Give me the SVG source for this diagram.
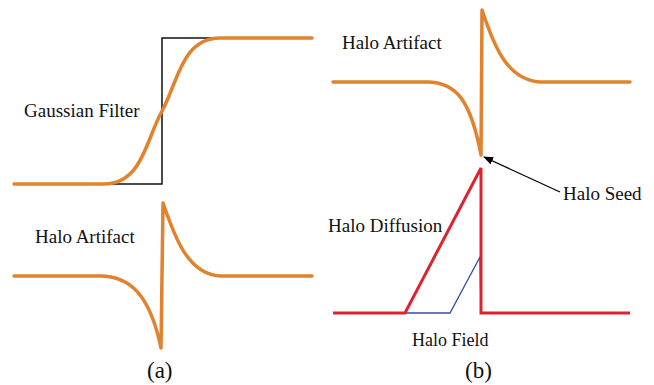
<svg xmlns="http://www.w3.org/2000/svg" width="654" height="385" viewBox="0 0 654 385">
<defs>
<style>
text{font-family:"Liberation Serif","Times New Roman","DejaVu Serif",serif;fill:#111;}
.o{fill:none;stroke:#E0822E;stroke-width:3.5;stroke-linecap:round;stroke-linejoin:round;}
</style>
<marker id="ah" markerWidth="10" markerHeight="8" refX="9" refY="4" orient="auto" markerUnits="userSpaceOnUse"><path d="M0,0 L10,4 L0,8 Z" fill="#000"/></marker>
</defs>
<rect width="654" height="385" fill="#fff"/>
<g id="panel-a-top">
<path d="M14,184 L162,184 L162,38 L312,38" fill="none" stroke="#111" stroke-width="1.5"/>
<path class="o" d="M14,184 L104,184 C142,184 146,140 162,111 C178,82 182,38 220,38 L312,38"/>
<text x="24" y="117" font-size="19">Gaussian Filter</text>
</g>
<g id="panel-a-bottom">
<path class="o" d="M14,276 L100,276 C130,276 150,295 161,348 L163,203 C175,238 188,274 220,276 L312,276"/>
<text x="35" y="243" font-size="19">Halo Artifact</text>
<text x="147" y="378" font-size="23">(a)</text>
</g>
<g id="panel-b-top">
<path class="o" d="M333,82 L427,82 C457,82 471,102 481,155 L482,10 C494,46 507,80 540,82 L630,82"/>
<text x="342" y="49" font-size="19">Halo Artifact</text>
</g>
<g id="panel-b-bottom">
<path d="M333,313 L450,313 L480,257 L481,313 L630,313" fill="none" stroke="#3B4BA0" stroke-width="1.3"/>
<path d="M333,313 L405,313 L481,168 L481,313 L630,313" fill="none" stroke="#D9252F" stroke-width="3" stroke-linejoin="miter"/>
<text x="328" y="232" font-size="19">Halo Diffusion</text>
<text x="412" y="346" font-size="18">Halo Field</text>
<text x="563" y="200" font-size="19">Halo Seed</text>
<text x="465" y="378" font-size="23">(b)</text>
</g>
<g id="connectors">
<path d="M560,192 L484,157" stroke="#000" stroke-width="1.2" fill="none" marker-end="url(#ah)"/>
</g>
</svg>
